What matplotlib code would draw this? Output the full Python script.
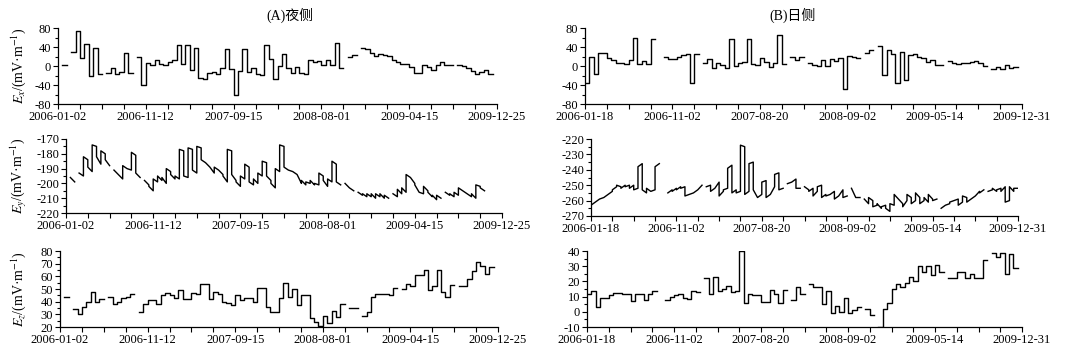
import numpy as np
import matplotlib
matplotlib.use("Agg")
import matplotlib.pyplot as plt
from matplotlib.ticker import MultipleLocator

plt.rcParams['font.family'] = ['Liberation Serif', 'Noto Sans CJK SC']
plt.rcParams['mathtext.fontset'] = 'stix'
plt.rcParams['axes.unicode_minus'] = False

N = None

# tick labels (one label every 4 ticks)
dates_night = ['2006-01-02', '2006-11-12', '2007-09-15', '2008-08-01', '2009-04-15', '2009-12-25']
dates_day = ['2006-01-18', '2006-11-02', '2007-08-20', '2008-09-02', '2009-05-14', '2009-12-31']

# Ex, night side (one value per time window, None = no data)
ex_night = [N, 3, N, 30, 73, 16, 46, -22, 38, -16, N, -15, -5, -17, -12, 28, -14, N,
            18, -40, 7, 3, 12, 5, 2, 8, 12, 45, 4, 44, -9, 38, -25, -28, -14, -12,
            -16, -5, 35, -6, -60, -10, 35, -12, -4, -17, -19, 45, 14, -28, 0, 25, -5,
            -15, -3, -15, -17, 12, 8, 10, 3, 13, 3, 48, -4, N, 20, 23, N, 37, 35, 28,
            22, 25, 24, 22, 12, 8, 5, 4, -3, -15, -15, 2, -2, -8, 3, 8, 3, 3, N, 2,
            -1, -5, -10, -16, -13, -8, -17]

# Ey, night side: (value at window start, value at window end)
ey_night = [N, (-196, -199), N, (-193, -195), (-182, -184), (-189, -192), (-174, -175),
            (-182, -187), (-178, -180), (-184, -188), N, (-191, -194), (-194, -197),
            (-188, -190), (-190, -191), (-179, -181), (-193, -196), N, (-198, -201),
            (-202, -205), (-197, -199), (-195, -198), (-196, -200), (-190, -192),
            (-194, -197), (-195, -197), (-177, -178), (-195, -196), (-176, -177),
            (-191, -193), (-175, -176), (-184, -186), (-186, -189), (-189, -193),
            (-189, -191), (-191, -194), (-195, -199), (-177, -178), (-194, -198),
            (-199, -202), (-195, -197), (-187, -189), (-199, -201), (-197, -200),
            (-193, -195), (-185, -186), (-195, -198), (-200, -203), (-190, -192),
            (-174, -175), (-189, -191), (-191, -192), (-192, -194), (-194, -200),
            (-198, -201), (-199, -200), (-198, -201), (-200, -201), (-193, -195),
            (-198, -202), (-197, -199), (-185, -187), (-199, -201), N, (-200, -203),
            (-203, -205), N, (-206, -208), (-207, -209), (-207, -209), (-207, -210),
            (-207, -209), (-207, -210), (-208, -210), N, (-207, -209), (-204, -207),
            (-203, -206), (-194, -196), (-196, -200), (-201, -206), (-206, -207),
            (-202, -205), (-206, -209), (-208, -211), (-208, -210), N, (-206, -208),
            (-207, -209), (-206, -208), (-203, -205), (-205, -207), (-207, -209),
            (-207, -210), (-201, -202), (-203, -205)]

# Ez, night side
ez_night = [N, 44, N, 34, 30, 36, 40, 48, 40, 42, N, 44, 38, 40, 43, 44, 46, N, 32, 38,
            41, 41, 38, 45, 47, 45, 43, 49, 42, 42, 47, 46, 54, 54, 42, 48, 46, 40, 39,
            37, 45, 41, 43, 43, 40, 51, 51, 36, 32, 32, 43, 55, 44, 50, 37, 45, 45, 27,
            24, 21, 29, 23, 33, 28, 38, N, 35, 35, N, 29, 32, 44, 46, 46, 46, 45, 51, N,
            50, 54, 52, 61, 61, 65, 49, 52, 65, 48, 44, 53, N, 52, 52, 58, 64, 71, 68,
            62, 67]

# Ex, day side
ex_day = [-35, 19, -17, 28, 28, 16, 12, 6, 6, 5, 12, 60, 4, 10, 4, 57, N, N, 20, 15, 15,
          18, 23, 25, -36, 25, N, 6, 15, -5, 6, 2, -4, 57, -1, 7, 8, 57, 5, 3, 16, 8, -3,
          7, 66, 5, N, 20, 13, 18, N, 6, 3, -1, 12, 0, 15, 10, 16, -48, 21, 18, 16, N,
          27, 33, N, 43, -19, 33, 25, -35, 29, -30, 23, 26, 18, 16, 8, 12, 3, 3, N, 10,
          6, 4, 7, 7, 9, 10, 7, 0, N, -6, -3, -6, 2, -5, -2]

# Ey, day side: (value at window start, value at window end)
ey_day = [(-263, -261), (-261, -259), (-259, -258), (-258, -256), (-256, -254),
          (-253, -251), (-250, -251), (-252, -250), (-251, -250), (-252, -250),
          (-253, -252), (-238, -236), (-253, -255), (-252, -254), (-254, -253),
          (-238, -236), N, N, (-255, -253), (-254, -252), (-253, -251), (-252, -251),
          (-257, -256), (-256, -255), (-255, -253), (-253, -250), N, (-251, -250),
          (-254, -252), (-252, -248), (-257, -254), (-253, -252), (-239, -237),
          (-255, -253), (-255, -254), (-224, -225), (-256, -254), (-236, -235),
          (-253, -258), (-258, -256), (-248, -247), (-258, -256), (-256, -251),
          (-243, -242), (-253, -252), N, (-249, -248), (-248, -246), (-252, -252), N,
          (-251, -253), (-254, -252), (-257, -254), (-251, -250), (-258, -256),
          (-257, -256), (-256, -254), (-259, -257), (-257, -253), (-258, -257), N,
          (-252, -258), (-258, -258), N, (-259, -262), (-258, -260), (-264, -263),
          (-262, -265), (-264, -263), (-265, -267), (-262, -263), (-256, -259),
          (-259, -262), (-264, -260), (-256, -258), (-262, -260), (-255, -258),
          (-262, -260), (-258, -261), (-256, -259), (-260, -259), N, (-265, -263),
          (-263, -262), (-261, -260), (-260, -259), (-263, -261), (-257, -258),
          (-261, -259), (-259, -257), (-257, -254), (-255, -253), N, (-254, -253),
          (-252, -254), (-253, -252), (-254, -251), (-261, -260), (-251, -254),
          (-252, -252)]

# Ez, day side
ez_day = [12, 14, 3, 9, 9, 11, 12.5, 12.5, 12, 12, 7, 12, 12, 8, 12, 14, N, N, 8, 10, 11,
          12, 9, 8.5, 14, 13, N, 22, 12, 23, 14, 15, 17, 13, 13.5, 40, 6, 12, 11, 11,
          6.5, 6.5, 14.5, 12, 6, 14.5, N, 7.5, 16, 12, N, 18, 16, 16.5, 5, 14, -1, 4, 0,
          9, -1, 1, 3, N, 2, -2, N, -10, 2, 6, 15, 18, 16, 19, 23, 20, 30, 26, 30, 24,
          31, 26, N, 22, 22, 26, 26, 22, 25, 22, 22, 34, N, 39, 36, 39, 25, 38, 29]


def seg_path(rows):
    # each window drawn from its start value to its end value, joined by vertical jumps
    xs, ys = [], []
    for i, r in enumerate(rows):
        if r is None:
            xs.append(np.nan)
            ys.append(np.nan)
            continue
        s, e = r if isinstance(r, tuple) else (r, r)
        xs += [i, i + 1]
        ys += [s, e]
    return xs, ys


W, H = 1082, 355
fig = plt.figure(figsize=(W / 100, H / 100), dpi=100)


def make_ax(l, r, t, b):
    return fig.add_axes([l / W, 1 - b / H, (r - l) / W, (b - t) / H])


def style(ax, rows, ylim, major, minor, labels):
    xs, ys = seg_path(rows)
    ax.plot(xs, ys, color='black', lw=1.0)
    ax.set_xlim(0, 100)
    ax.set_ylim(*ylim)
    ax.spines['top'].set_visible(False)
    ax.spines['right'].set_visible(False)
    for s in ('left', 'bottom'):
        ax.spines[s].set_linewidth(0.9)
    ax.set_xticks(np.arange(0, 101, 5))
    ax.set_xticklabels([labels[k // 4] if k % 4 == 0 else '' for k in range(21)])
    ax.yaxis.set_major_locator(MultipleLocator(major))
    ax.yaxis.set_minor_locator(MultipleLocator(minor))
    ax.tick_params(axis='both', which='major', direction='out', length=3.5, width=0.8,
                   labelsize=9, pad=1.5)
    ax.tick_params(axis='y', which='minor', direction='out', length=2, width=0.8)
    ax.set_facecolor('none')


panels = [
    (ex_night, (58, 497, 28, 104), (-80, 80), 40, 20, dates_night, r'$E_x$/(mV·m$^{-1}$)'),
    (ey_night, (66, 502, 139, 213), (-220, -170), 10, 5, dates_night, r'$E_y$/(mV·m$^{-1}$)'),
    (ez_night, (60, 498, 251, 327), (20, 80), 10, 5, dates_night, r'$E_z$/(mV·m$^{-1}$)'),
    (ex_day, (585, 1022, 28, 104), (-80, 80), 40, 20, dates_day, None),
    (ey_day, (591, 1018, 139, 216), (-270, -220), 10, 5, dates_day, None),
    (ez_day, (587, 1022, 251, 327), (-10, 40), 10, 5, dates_day, None),
]

for rows, box, ylim, major, minor, labels, ylab in panels:
    ax = make_ax(*box)
    style(ax, rows, ylim, major, minor, labels)
    if ylab:
        fig.text(19 / W, 1 - (box[2] + box[3]) / 2 / H, ylab, rotation=90,
                 ha='center', va='center', fontsize=10)

fig.text(290 / W, 1 - 15 / H, '(A)夜侧', ha='center', va='center', fontsize=10)
fig.text(793 / W, 1 - 15 / H, '(B)日侧', ha='center', va='center', fontsize=10)

fig.savefig('out.png', dpi=100)
